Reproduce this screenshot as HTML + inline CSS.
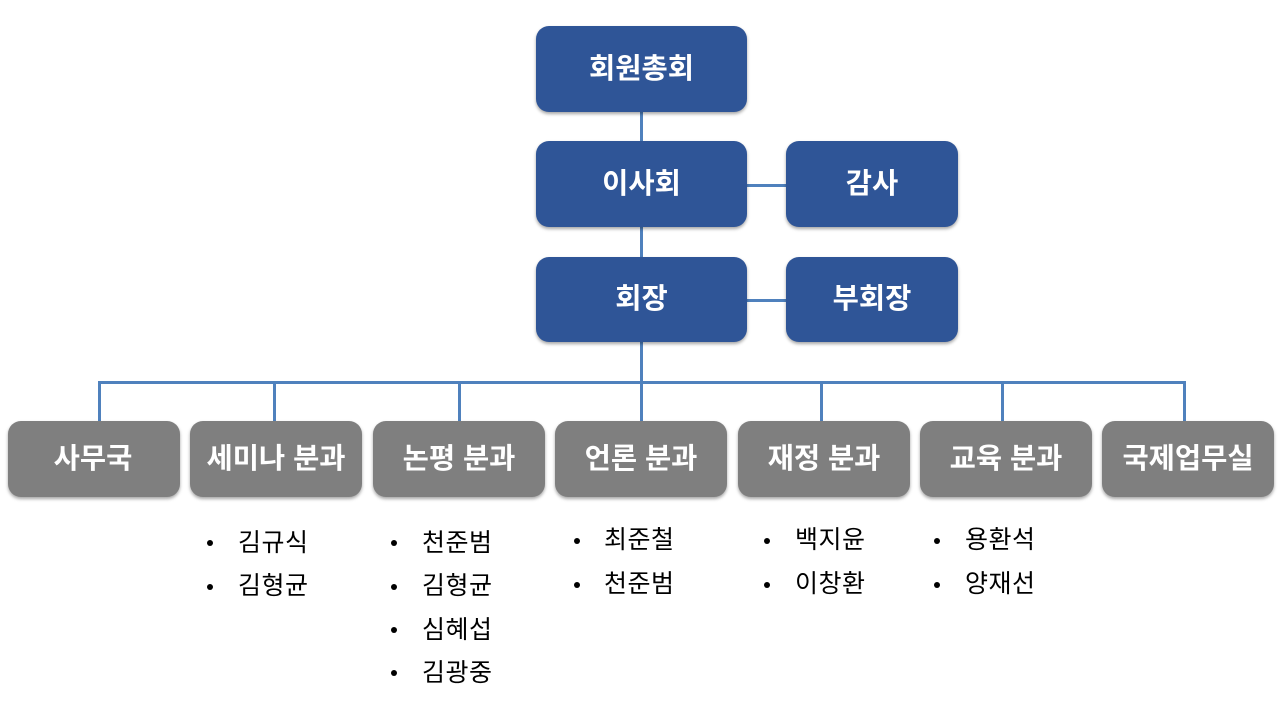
<!DOCTYPE html>
<html lang="ko"><head><meta charset="utf-8"><style>
html,body{margin:0;padding:0;background:#fff;width:1280px;height:720px;overflow:hidden}
body{position:relative;font-family:"Liberation Sans","Noto Sans CJK KR",sans-serif}
.b{position:absolute;box-sizing:border-box;border-radius:13px;color:#fff;font-weight:700;font-size:28.5px;display:flex;align-items:center;justify-content:center;white-space:pre;box-shadow:0 2px 3px rgba(0,0,0,.35);padding-bottom:6px}
.n{background:#2f5597}.g{background:#7f7f7f}
.l{position:absolute;background:#4f81bd}
.t{position:absolute;font-size:25px;line-height:30px;color:#000;white-space:pre;letter-spacing:.5px}
.d{position:absolute;width:6px;height:6px;border-radius:50%;background:#000}
</style></head><body>
<div class="l" style="left:640px;top:110px;width:3px;height:34px"></div>
<div class="l" style="left:640px;top:226px;width:3px;height:34px"></div>
<div class="l" style="left:747px;top:184px;width:40px;height:3px"></div>
<div class="l" style="left:747px;top:299px;width:40px;height:3px"></div>
<div class="l" style="left:640px;top:341px;width:3px;height:82px"></div>
<div class="l" style="left:98px;top:381px;width:1088px;height:3px"></div>
<div class="l" style="left:98px;top:381px;width:3px;height:42px"></div>
<div class="l" style="left:273px;top:381px;width:3px;height:42px"></div>
<div class="l" style="left:458px;top:381px;width:3px;height:42px"></div>
<div class="l" style="left:820px;top:381px;width:3px;height:42px"></div>
<div class="l" style="left:1001px;top:381px;width:3px;height:42px"></div>
<div class="l" style="left:1183px;top:381px;width:3px;height:42px"></div>

<div class="b n" style="left:536px;top:26px;width:211px;height:86px">회원총회</div>
<div class="b n" style="left:536px;top:141px;width:211px;height:86px">이사회</div>
<div class="b n" style="left:786px;top:141px;width:172px;height:86px">감사</div>
<div class="b n" style="left:536px;top:257px;width:211px;height:85px">회장</div>
<div class="b n" style="left:786px;top:257px;width:172px;height:85px">부회장</div>

<div class="b g" style="left:8px;top:421px;width:172px;height:76px;padding-right:2px">사무국</div>
<div class="b g" style="left:190px;top:421px;width:172px;height:76px">세미나 분과</div>
<div class="b g" style="left:373px;top:421px;width:172px;height:76px">논평 분과</div>
<div class="b g" style="left:555px;top:421px;width:172px;height:76px">언론 분과</div>
<div class="b g" style="left:738px;top:421px;width:172px;height:76px">재정 분과</div>
<div class="b g" style="left:920px;top:421px;width:172px;height:76px">교육 분과</div>
<div class="b g" style="left:1102px;top:421px;width:172px;height:76px">국제업무실</div>

<div class="d" style="left:207px;top:540px"></div><div class="t" style="left:238px;top:528px">김규식</div>
<div class="d" style="left:207px;top:584px"></div><div class="t" style="left:238px;top:571px">김형균</div>

<div class="d" style="left:391px;top:540px"></div><div class="t" style="left:422px;top:528px">천준범</div>
<div class="d" style="left:391px;top:584px"></div><div class="t" style="left:422px;top:571px">김형균</div>
<div class="d" style="left:391px;top:627px"></div><div class="t" style="left:422px;top:615px">심혜섭</div>
<div class="d" style="left:391px;top:670px"></div><div class="t" style="left:422px;top:658px">김광중</div>

<div class="d" style="left:574px;top:538px"></div><div class="t" style="left:604px;top:525px">최준철</div>
<div class="d" style="left:574px;top:582px"></div><div class="t" style="left:604px;top:569px">천준범</div>

<div class="d" style="left:764px;top:538px"></div><div class="t" style="left:795px;top:525px">백지윤</div>
<div class="d" style="left:764px;top:582px"></div><div class="t" style="left:795px;top:569px">이창환</div>

<div class="d" style="left:934px;top:538px"></div><div class="t" style="left:965px;top:525px">용환석</div>
<div class="d" style="left:934px;top:582px"></div><div class="t" style="left:965px;top:569px">양재선</div>
</body></html>
